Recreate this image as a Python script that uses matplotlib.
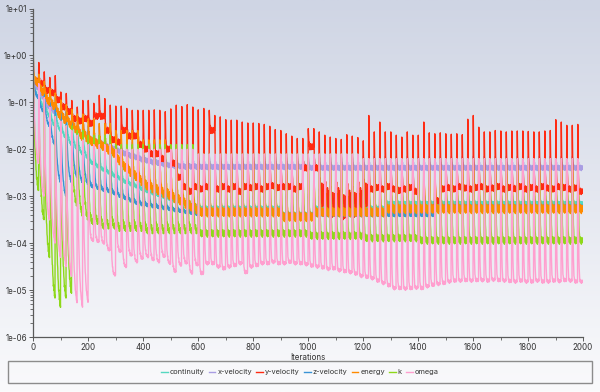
import numpy as np
import matplotlib
matplotlib.use("Agg")
import matplotlib.pyplot as plt
from matplotlib.ticker import LogLocator, MultipleLocator, FuncFormatter, NullFormatter
from matplotlib.patches import Rectangle

plt.rcParams['font.family'] = ['Inter', 'DejaVu Sans']

# residual history: 100 time steps of 20 iterations each
# values are log10 of the residual per time step
n_steps = 100
iters_per_step = 20

labels = ['continuity', 'x-velocity', 'y-velocity', 'z-velocity', 'energy', 'k', 'omega']
colors = ['#55d8c1', '#a99de3', '#ff2a12', '#3a93d6', '#ff8a00', '#8ed81a', '#ff9fcf']

# y-velocity: spike height and floor of every time step
yvel_peak = [
    -0.04, -0.15, -0.35, -0.47, -0.43, -0.78, -0.81, -0.96, -1.10, -0.96,
    -0.96, -1.02, -0.85, -0.92, -1.06, -1.08, -1.08, -1.13, -1.17, -1.17,
    -1.17, -1.17, -1.16, -1.17, -1.20, -1.14, -1.06, -1.09, -1.05, -1.10,
    -1.16, -1.13, -1.17, -1.28, -1.31, -1.37, -1.38, -1.38, -1.42, -1.44,
    -1.44, -1.45, -1.47, -1.51, -1.58, -1.60, -1.67, -1.72, -1.77, -1.77,
    -1.56, -1.56, -1.63, -1.70, -1.74, -1.77, -1.79, -1.69, -1.72, -1.75,
    -1.82, -1.28, -1.63, -1.42, -1.63, -1.63, -1.70, -1.74, -1.63, -1.70,
    -1.70, -1.42, -1.65, -1.67, -1.65, -1.67, -1.68, -1.67, -1.69, -1.36,
    -1.28, -1.53, -1.63, -1.63, -1.60, -1.61, -1.63, -1.61, -1.61, -1.61,
    -1.62, -1.63, -1.63, -1.61, -1.60, -1.37, -1.42, -1.49, -1.49, -1.47,
]
yvel_floor = [
    -0.55, -0.60, -0.75, -0.80, -0.95, -1.10, -1.20, -1.35, -1.40, -1.35,
    -1.45, -1.30, -1.30, -1.60, -1.80, -1.85, -1.60, -1.72, -1.72, -1.90,
    -2.00, -2.10, -2.10, -2.20, -2.00, -2.30, -2.60, -2.80, -2.90, -2.80,
    -2.85, -2.80, -1.60, -2.85, -2.80, -2.85, -2.80, -2.90, -2.80, -2.82,
    -2.80, -2.85, -2.80, -2.78, -2.82, -2.80, -2.80, -2.85, -2.80, -2.40,
    -1.95, -2.40, -3.00, -3.10, -3.20, -3.10, -3.25, -3.15, -3.20, -3.10,
    -3.00, -2.85, -2.82, -2.85, -2.80, -2.85, -2.88, -2.85, -2.82, -2.90,
    -3.30, -3.35, -3.25, -3.10, -2.85, -2.82, -2.85, -2.80, -2.83, -2.85,
    -2.82, -2.80, -2.85, -2.83, -2.80, -2.85, -2.82, -2.84, -2.80, -2.85,
    -2.82, -2.85, -2.80, -2.83, -2.85, -2.80, -2.82, -2.85, -2.83, -2.90,
]
# omega: floor of every time step
omega_floor = [
    -2.30, -3.00, -3.50, -4.00, -4.30, -4.50, -4.70, -5.27, -5.36, -5.26,
    -3.94, -3.97, -4.00, -4.15, -4.68, -4.18, -4.50, -4.26, -4.40, -4.33,
    -4.29, -4.36, -4.40, -4.29, -4.43, -4.61, -4.47, -4.43, -4.64, -4.47,
    -4.64, -4.43, -4.43, -4.50, -4.54, -4.50, -4.47, -4.43, -4.62, -4.50,
    -4.47, -4.43, -4.43, -4.40, -4.43, -4.43, -4.40, -4.43, -4.43, -4.45,
    -4.48, -4.50, -4.52, -4.55, -4.54, -4.58, -4.60, -4.62, -4.65, -4.70,
    -4.72, -4.75, -4.80, -4.85, -4.90, -4.96, -4.96, -4.97, -4.96, -4.95,
    -4.96, -4.92, -4.89, -4.87, -4.85, -4.82, -4.80, -4.80, -4.79, -4.80,
    -4.79, -4.79, -4.80, -4.78, -4.79, -4.80, -4.81, -4.82, -4.80, -4.82,
    -4.82, -4.80, -4.82, -4.82, -4.80, -4.81, -4.79, -4.80, -4.82, -4.82,
]
omega_peak_at = [0, 1, 2, 3, 4, 5, 6, 7, 8, 9, 10, 15, 30, 60]
omega_peak = [0.0, -0.6, -0.9, -1.1, -1.3, -1.4, -1.5, -1.6, -1.7, -1.8, -1.9, -2.0, -2.1, -2.2]

# the other series: value holds from the given step on
cont_floor_at = list(range(30)) + [30, 45, 51, 64]
cont_floor = [-0.9, -1.1, -1.3, -1.5, -1.6, -1.75, -1.9, -2.0, -2.1, -2.2,
              -2.3, -2.37, -2.44, -2.5, -2.57, -2.63, -2.7, -2.75, -2.8, -2.85,
              -2.9, -2.94, -2.98, -3.02, -3.06, -3.1, -3.13, -3.16, -3.19, -3.22,
              -3.25, -3.38, -3.25, -3.15]
cont_peak_at = [0, 1, 3, 5, 8, 12, 16, 20, 25, 30, 45, 51, 64]
cont_peak = [-0.3, -0.6, -0.9, -1.2, -1.5, -1.8, -2.1, -2.4, -2.7, -2.85, -2.95, -2.85, -2.8]

xvel_floor_at = list(range(30)) + [50]
xvel_floor = [-0.7, -0.9, -1.1, -1.2, -1.3, -1.4, -1.5, -1.6, -1.7, -1.75,
              -1.8, -1.85, -1.9, -1.95, -2.0, -2.05, -2.1, -2.14, -2.18, -2.22,
              -2.25, -2.28, -2.3, -2.32, -2.35, -2.36, -2.37, -2.38, -2.38, -2.38,
              -2.4]
xvel_peak_at = [0, 1, 2, 3, 5, 7, 10, 13, 16, 20, 24, 30]
xvel_peak = [-0.45, -0.6, -0.8, -0.95, -1.1, -1.3, -1.5, -1.7, -1.85, -2.0, -2.1, -2.15]

zvel_floor_at = list(range(30)) + [45, 73]
zvel_floor = [-0.9, -1.2, -1.5, -1.9, -2.7, -3.0, -2.7, -2.6, -2.7, -2.75,
              -2.8, -2.83, -2.87, -2.9, -2.95, -3.0, -3.05, -3.1, -3.15, -3.18,
              -3.2, -3.22, -3.24, -3.26, -3.28, -3.3, -3.32, -3.34, -3.36, -3.38,
              -3.4, -3.22]
zvel_peak_at = [0, 1, 3, 5, 8, 12, 16, 20, 25, 30, 73]
zvel_peak = [-0.4, -0.7, -1.0, -1.2, -1.6, -1.9, -2.2, -2.5, -2.8, -3.0, -2.9]

energy_floor_at = list(range(30)) + [30, 45, 51, 64]
energy_floor = [-0.6, -0.8, -1.0, -1.1, -1.3, -1.4, -1.5, -1.6, -1.75, -1.8,
                -1.85, -1.9, -1.95, -2.02, -2.1, -2.25, -2.4, -2.5, -2.6, -2.7,
                -2.8, -2.85, -2.9, -2.95, -3.0, -3.06, -3.12, -3.18, -3.25, -3.3,
                -3.35, -3.45, -3.35, -3.28]
energy_peak_at = [0, 1, 2, 3, 4, 5, 6, 7, 8, 10, 12, 15, 20, 25, 30, 50]
energy_peak = [-0.3, -0.4, -0.55, -0.7, -0.8, -0.95, -1.05, -1.15, -1.25, -1.35, -1.45, -1.6, -1.8, -2.0, -2.2, -2.3]

k_floor_at = [0, 1, 2, 3, 4, 5, 6, 7, 8, 9, 10, 12, 15, 20, 30, 50, 60, 70]
k_floor = [-2.87, -3.5, -4.3, -5.17, -5.36, -5.17, -5.06, -3.2, -3.4, -3.5, -3.55, -3.65, -3.7, -3.75, -3.8, -3.85, -3.9, -3.95]
k_peak_at = [0, 1, 2, 3, 4, 5, 6, 8, 10, 15, 30, 60]
k_peak = [0.1, -0.7, -1.0, -1.2, -1.3, -1.4, -1.5, -1.6, -1.7, -1.9, -2.1, -2.2]

# shape of one time step (1 = spike, 0 = settled), as seen in the plot
decay_red = [1.0, 0.6, 0.3, 0.14, 0.06, 0.02, 0, 0, 0, 0, 0, 0, 0, 0, 0, 0, 0, 0, 0, 0]
decay_sharp = [1.0, 0.8, 0.55, 0.35, 0.2, 0.11, 0.06, 0.03, 0.015, 0.005, 0, 0, 0, 0, 0, 0, 0, 0, 0, 0]
decay_medium = [1.0, 0.7, 0.48, 0.34, 0.25, 0.18, 0.13, 0.09, 0.065, 0.048,
                0.035, 0.025, 0.018, 0.012, 0.008, 0.005, 0.003, 0.002, 0.001, 0.0]
decay_slow = [1.0, 0.8, 0.66, 0.55, 0.46, 0.39, 0.33, 0.28, 0.23, 0.19,
              0.16, 0.13, 0.10, 0.08, 0.06, 0.045, 0.03, 0.02, 0.01, 0.0]
# jitter on the settled part of a step
jitter = [0.0, 0.3, -0.5, 0.8, -0.2, 0.6, -0.9, 0.4, -0.3, 1.0,
          -0.6, 0.2, -0.8, 0.5, 0.1, -0.4, 0.9, -0.7, 0.3, -0.1]
jitter_size = [0.04, 0.06, 0.07, 0.04, 0.10, 0.08, 0.04]
yvel_noisy_steps = range(52, 61)


def per_step(starts, values):
    out = np.empty(n_steps)
    for s, v in zip(starts, values):
        out[s:] = v
    return out


def history(peak, floor, amp, red=False, noisy=()):
    logv = []
    for i in range(n_steps):
        if red:
            prof = decay_red
        elif i >= 30:
            prof = decay_sharp
        elif i >= 10:
            prof = decay_medium
        else:
            prof = decay_slow
        jit = jitter if i % 2 == 0 else jitter[::-1]
        a = amp * 4 if i in noisy else amp
        for k in range(iters_per_step):
            logv.append(floor[i] + (peak[i] - floor[i]) * prof[k] + a * jit[k] * (1 - prof[k]))
    return 10 ** np.array(logv)


iters = np.arange(1, n_steps * iters_per_step + 1)
series = [
    history(per_step(cont_peak_at, cont_peak), per_step(cont_floor_at, cont_floor), jitter_size[0]),
    history(per_step(xvel_peak_at, xvel_peak), per_step(xvel_floor_at, xvel_floor), jitter_size[1]),
    history(np.array(yvel_peak), np.array(yvel_floor), jitter_size[2], True, yvel_noisy_steps),
    history(per_step(zvel_peak_at, zvel_peak), per_step(zvel_floor_at, zvel_floor), jitter_size[3]),
    history(per_step(energy_peak_at, energy_peak), per_step(energy_floor_at, energy_floor), jitter_size[4]),
    history(per_step(k_peak_at, k_peak), per_step(k_floor_at, k_floor), jitter_size[5]),
    history(per_step(omega_peak_at, omega_peak), np.array(omega_floor), jitter_size[6]),
]

fig = plt.figure(figsize=(6, 3.92), dpi=100)

# light blue-grey to white background
bg = fig.add_axes([0, 0, 1, 1], zorder=-10)
top = np.array([207, 213, 228]) / 255
bot = np.array([250, 250, 252]) / 255
t = np.linspace(0, 1, 256)[:, None, None]
bg.imshow(top * (1 - t) + bot * t, aspect='auto', extent=[0, 1, 0, 1])
bg.axis('off')

ax = fig.add_axes([0.055, 0.1403, 0.9167, 0.838])
ax.patch.set_alpha(0)
lines = []
for y, c, lab in zip(series, colors, labels):
    ln, = ax.semilogy(iters, y, color=c, lw=1.0, label=lab)
    lines.append(ln)

ax.set_xlim(0, 2000)
ax.set_ylim(1e-6, 10)
ax.xaxis.set_major_locator(MultipleLocator(200))
ax.xaxis.set_minor_locator(MultipleLocator(100))
ax.yaxis.set_major_locator(LogLocator(base=10, numticks=20))
ax.yaxis.set_minor_locator(LogLocator(base=10, subs=np.arange(2, 10), numticks=20))
ax.yaxis.set_minor_formatter(NullFormatter())
ax.yaxis.set_major_formatter(FuncFormatter(lambda v, _: f"{v:.0e}"))
for s in ['top', 'right']:
    ax.spines[s].set_visible(False)
for s in ['left', 'bottom']:
    ax.spines[s].set_color('#5a5a5a')
    ax.spines[s].set_linewidth(0.9)
ax.tick_params(which='major', direction='out', length=3, width=0.7, color='#5a5a5a',
               labelsize=5.8, labelcolor='#333333', pad=1.2)
ax.tick_params(which='minor', direction='out', length=2, width=0.6, color='#5a5a5a')
ax.set_xlabel('Iterations', fontsize=5.8, color='#333333', labelpad=1)

fig.patches.append(Rectangle((8 / 600, 9 / 392), 584 / 600, 22 / 392, transform=fig.transFigure,
                             fill=False, edgecolor='#8c8c8c', lw=1.0))
fig.legend(lines, labels, loc='center', bbox_to_anchor=(0.5, 20 / 392), ncol=7, frameon=False,
           fontsize=5.3, handlelength=0.9, handletextpad=0.3, columnspacing=0.55,
           labelcolor='#333333')

fig.savefig('out.png', dpi=100)
